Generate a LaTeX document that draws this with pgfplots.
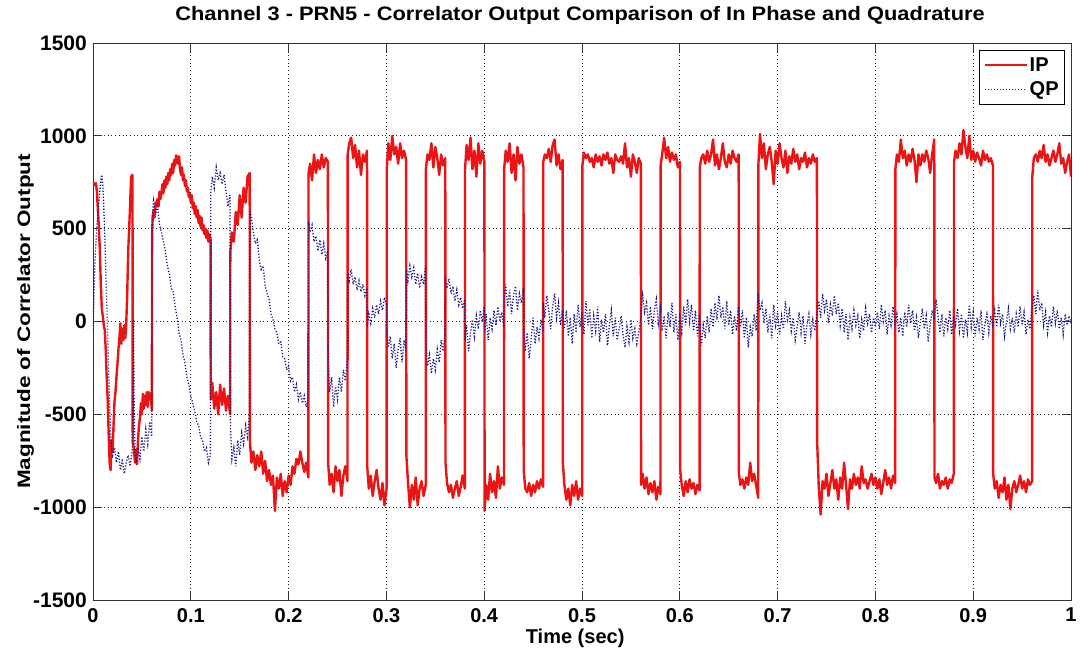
\documentclass[border=0pt]{standalone}
\usepackage{fontspec}
\setmainfont{Liberation Sans}
\newfontfamily\titlefont[FakeStretch=1.12]{Liberation Sans}
\newfontfamily\ylabfont[FakeStretch=1.25]{Liberation Sans}
\usepackage{pgfplots}
\pgfplotsset{compat=1.18}
\definecolor{ipred}{RGB}{235,20,20}
\definecolor{qpblue}{RGB}{25,25,135}
\begin{document}
\begin{tikzpicture}
\path[use as bounding box] (-93pt,-55pt) rectangle (988pt,600pt);
\begin{axis}[
  at={(0pt,0pt)}, anchor=south west,
  scale only axis, width=978pt, height=557pt,
  xmin=0, xmax=1, ymin=-1500, ymax=1500,
  xtick={0,0.1,0.2,0.3,0.4,0.5,0.6,0.7,0.8,0.9,1},
  ytick={-1500,-1000,-500,0,500,1000,1500},
  /pgf/number format/assume math mode=true,
  /pgf/number format/1000 sep={},
  grid=major,
  major grid style={black!85, line width=0.7pt, dash pattern=on 0.7pt off 3pt},
  axis line style={black!80, line width=0.8pt},
  tick style={black!80, line width=0.8pt},
  major tick length=9pt,
  tick align=inside, tick pos=both,
  xticklabel style={font=\bfseries\fontsize{20}{22}\selectfont, inner sep=0pt, yshift=-8pt},
  yticklabel style={font=\bfseries\fontsize{21}{23}\selectfont, inner sep=0pt, xshift=-6pt},
  title={Channel 3 - PRN5 - Correlator Output Comparison of In Phase and Quadrature},
  title style={font=\titlefont\bfseries\fontsize{19.5}{21}\selectfont, at={(axis description cs:0.498,1)}, anchor=base, yshift=16pt},
  xlabel={Time (sec)},
  xlabel style={font=\bfseries\fontsize{20}{22}\selectfont, at={(axis description cs:0.493,-0.069)}, anchor=center},
  ylabel={Magnitude of Correlator Output},
  ylabel style={font=\ylabfont\bfseries\fontsize{18}{20}\selectfont, at={(axis description cs:-0.069,0.5)}, anchor=center},
  legend style={at={(axis description cs:0.9939,0.9874)}, anchor=north east, draw=black, line width=0.8pt,
    font=\bfseries\fontsize{20}{22}\selectfont, inner xsep=4pt, inner ysep=5pt, row sep=5pt,
    /tikz/every even column/.append style={column sep=0pt}},
  legend cell align=left,
  legend image code/.code={\draw[#1] (-2pt,0pt) -- (40pt,0pt);},
]
\addplot[ipred, line width=2.4pt, line join=round] coordinates {
(0,740) (0.001,745) (0.002,735) (0.003,745) (0.004,700) (0.005,600) (0.006,510) (0.007,380) (0.008,200) (0.009,70)
(0.010,30) (0.011,-20) (0.012,-45) (0.013,-150) (0.014,-300) (0.015,-420) (0.016,-600) (0.017,-760) (0.018,-800) (0.019,-640)
(0.020,-700) (0.021,-560) (0.022,-430) (0.023,-380) (0.024,-300) (0.025,-230) (0.026,-150) (0.027,-90) (0.028,-10) (0.029,-120)
(0.030,-40) (0.031,-100) (0.032,-20) (0.033,-90) (0.034,-10) (0.035,150) (0.036,380) (0.037,500) (0.038,640) (0.039,780)
(0.0404,790) (0.0406,-640) (0.042,-700) (0.043,-760) (0.044,-690) (0.045,-770) (0.046,-640) (0.047,-560) (0.048,-520) (0.049,-440)
(0.050,-500) (0.051,-390) (0.052,-470) (0.053,-400) (0.054,-450) (0.055,-380) (0.056,-460) (0.057,-380) (0.058,-420) (0.059,-390)
(0.0602,-480) (0.0604,460) (0.061,560) (0.062,600) (0.063,560) (0.064,640) (0.065,620) (0.066,660) (0.067,620) (0.068,700)
(0.069,660) (0.070,690) (0.071,740) (0.072,690) (0.073,760) (0.074,720) (0.075,780) (0.076,740) (0.077,800) (0.078,760)
(0.079,820) (0.080,790) (0.081,850) (0.082,800) (0.083,870) (0.084,840) (0.085,895) (0.086,880) (0.087,850) (0.088,890)
(0.089,820) (0.090,790) (0.091,830) (0.092,760) (0.093,790) (0.094,730) (0.095,760) (0.096,700) (0.097,720) (0.098,670)
(0.099,690) (0.100,640) (0.101,680) (0.102,610) (0.103,640) (0.104,580) (0.105,620) (0.106,560) (0.107,600) (0.108,530)
(0.109,570) (0.110,510) (0.111,560) (0.112,490) (0.113,520) (0.114,470) (0.115,500) (0.116,450) (0.117,490) (0.118,430)
(0.119,470) (0.1202,440)
(0.1204,-420) (0.122,-330) (0.124,-470) (0.126,-380) (0.128,-500) (0.130,-340) (0.132,-450) (0.134,-360) (0.136,-480) (0.138,-400) (0.1402,-500)
(0.1404,370) (0.142,480) (0.144,430) (0.146,590) (0.148,520) (0.150,680) (0.152,560) (0.154,720) (0.156,640) (0.158,780) (0.1602,800)
(0.1604,-640) (0.162,-760) (0.164,-700) (0.166,-800) (0.168,-720) (0.170,-780) (0.172,-700) (0.174,-820) (0.176,-750) (0.178,-860)
(0.180,-800) (0.182,-880) (0.184,-830) (0.186,-1020) (0.188,-840) (0.190,-900) (0.192,-820) (0.194,-940) (0.196,-860) (0.198,-920)
(0.200,-830) (0.202,-880) (0.204,-780) (0.206,-820) (0.208,-740) (0.210,-770) (0.212,-700) (0.214,-760) (0.216,-810) (0.218,-760) (0.2202,-840)
(0.2204,800) (0.222,850) (0.224,760) (0.226,900) (0.228,800) (0.230,870) (0.232,820) (0.234,900) (0.236,830) (0.238,880) (0.2402,860)
(0.2404,-760) (0.242,-880) (0.244,-820) (0.246,-920) (0.248,-780) (0.250,-860) (0.252,-800) (0.254,-940) (0.256,-830) (0.258,-780) (0.2602,-860)
(0.2604,900) (0.262,960) (0.264,990) (0.266,880) (0.268,950) (0.270,830) (0.272,920) (0.274,790) (0.276,900) (0.278,860) (0.2802,920)
(0.2804,-780) (0.282,-900) (0.284,-830) (0.286,-940) (0.288,-860) (0.290,-800) (0.292,-900) (0.294,-960) (0.296,-870) (0.298,-990) (0.3002,-900)
(0.3004,820) (0.302,960) (0.304,870) (0.306,1000) (0.308,900) (0.310,940) (0.312,850) (0.314,960) (0.316,880) (0.318,920) (0.3202,870)
(0.3204,-720) (0.322,-860) (0.324,-1000) (0.326,-880) (0.328,-960) (0.330,-840) (0.332,-990) (0.334,-900) (0.336,-860) (0.338,-940) (0.3402,-880)
(0.3404,820) (0.342,900) (0.344,870) (0.346,960) (0.348,830) (0.350,940) (0.352,880) (0.354,790) (0.356,900) (0.358,840) (0.3602,880)
(0.3604,-760) (0.362,-870) (0.364,-920) (0.366,-880) (0.368,-950) (0.370,-900) (0.372,-860) (0.374,-940) (0.376,-890) (0.378,-830) (0.3802,-900)
(0.3804,820) (0.382,950) (0.384,870) (0.386,990) (0.388,820) (0.390,920) (0.392,780) (0.394,960) (0.396,850) (0.398,920) (0.4002,860)
(0.4004,-1020) (0.402,-880) (0.404,-960) (0.406,-820) (0.408,-920) (0.410,-860) (0.412,-950) (0.414,-780) (0.416,-900) (0.418,-840) (0.4202,-880)
(0.4204,820) (0.422,920) (0.424,860) (0.426,960) (0.428,800) (0.430,900) (0.432,760) (0.434,940) (0.436,850) (0.438,900) (0.4402,830)
(0.4404,-800) (0.442,-900) (0.444,-920) (0.446,-870) (0.448,-940) (0.450,-880) (0.452,-920) (0.454,-860) (0.456,-900) (0.458,-850) (0.4602,-890)
(0.4604,860) (0.462,900) (0.464,880) (0.466,930) (0.468,860) (0.470,950) (0.472,980) (0.474,840) (0.476,900) (0.478,820) (0.4802,870)
(0.4804,-760) (0.482,-880) (0.484,-960) (0.486,-900) (0.488,-990) (0.490,-880) (0.492,-940) (0.494,-860) (0.496,-960) (0.498,-900) (0.5002,-940)
(0.5004,840) (0.502,910) (0.504,880) (0.506,900) (0.508,860) (0.510,880) (0.512,830) (0.514,900) (0.516,860) (0.518,890)
(0.520,840) (0.522,900) (0.524,870) (0.526,910) (0.528,850) (0.530,880) (0.532,800) (0.534,900) (0.536,870) (0.538,860)
(0.540,890) (0.542,850) (0.544,960) (0.546,830) (0.548,880) (0.550,780) (0.552,900) (0.554,860) (0.556,800) (0.558,880) (0.5602,850)
(0.5604,-880) (0.562,-820) (0.564,-900) (0.566,-840) (0.568,-930) (0.570,-870) (0.572,-920) (0.574,-860) (0.576,-960) (0.578,-890) (0.5802,-930)
(0.5804,840) (0.582,900) (0.584,990) (0.586,880) (0.588,940) (0.590,860) (0.592,910) (0.594,870) (0.596,900) (0.598,830) (0.6002,860)
(0.6004,-800) (0.602,-880) (0.604,-940) (0.606,-860) (0.608,-920) (0.610,-850) (0.612,-900) (0.614,-870) (0.616,-930) (0.618,-880) (0.6202,-910)
(0.6204,830) (0.622,880) (0.624,900) (0.626,850) (0.628,920) (0.630,860) (0.632,900) (0.634,980) (0.636,840) (0.638,900)
(0.640,820) (0.642,880) (0.644,960) (0.646,860) (0.648,830) (0.650,900) (0.652,850) (0.654,920) (0.656,880) (0.658,860) (0.6602,900)
(0.6604,-820) (0.662,-880) (0.664,-850) (0.666,-900) (0.668,-840) (0.670,-880) (0.672,-760) (0.674,-860) (0.676,-820) (0.678,-880) (0.6802,-950)
(0.6804,850) (0.682,1010) (0.684,880) (0.686,960) (0.688,820) (0.690,900) (0.692,940) (0.694,860) (0.696,740) (0.698,920)
(0.700,850) (0.702,960) (0.704,880) (0.706,830) (0.708,920) (0.710,800) (0.712,890) (0.714,850) (0.716,930) (0.718,860)
(0.720,900) (0.722,820) (0.724,880) (0.726,860) (0.728,910) (0.730,830) (0.732,880) (0.734,850) (0.736,900) (0.738,860) (0.7402,880)
(0.7404,-640) (0.742,-880) (0.744,-1040) (0.746,-860) (0.748,-900) (0.750,-820) (0.752,-940) (0.754,-870) (0.756,-800) (0.758,-900)
(0.760,-850) (0.762,-960) (0.764,-840) (0.766,-900) (0.768,-760) (0.770,-880) (0.772,-1010) (0.774,-850) (0.776,-900) (0.778,-820)
(0.780,-880) (0.782,-840) (0.784,-900) (0.786,-780) (0.788,-870) (0.790,-850) (0.792,-900) (0.794,-860) (0.796,-820) (0.798,-880)
(0.800,-840) (0.802,-900) (0.804,-850) (0.806,-930) (0.808,-870) (0.810,-800) (0.812,-880) (0.814,-840) (0.816,-900) (0.818,-830) (0.8202,-870)
(0.8204,820) (0.822,900) (0.824,860) (0.826,980) (0.828,880) (0.830,920) (0.832,840) (0.834,900) (0.836,860) (0.838,930)
(0.840,870) (0.842,750) (0.844,900) (0.846,840) (0.848,900) (0.850,860) (0.852,920) (0.854,880) (0.856,800) (0.858,900) (0.8602,980)
(0.8604,-840) (0.862,-870) (0.864,-820) (0.866,-900) (0.868,-860) (0.870,-880) (0.872,-840) (0.874,-900) (0.876,-850) (0.878,-870) (0.8802,-820)
(0.8804,860) (0.882,920) (0.884,880) (0.886,960) (0.888,900) (0.890,1030) (0.892,940) (0.894,880) (0.896,1000) (0.898,870)
(0.900,920) (0.902,860) (0.904,910) (0.906,880) (0.908,840) (0.910,920) (0.912,870) (0.914,900) (0.916,860) (0.918,880) (0.9202,840)
(0.9204,-820) (0.922,-900) (0.924,-860) (0.926,-950) (0.928,-880) (0.930,-920) (0.932,-840) (0.934,-960) (0.936,-880) (0.938,-1010)
(0.940,-900) (0.942,-860) (0.944,-920) (0.946,-880) (0.948,-830) (0.950,-900) (0.952,-860) (0.954,-920) (0.956,-850) (0.958,-880) (0.9602,-860)
(0.9604,780) (0.962,880) (0.964,900) (0.966,860) (0.968,920) (0.970,880) (0.972,950) (0.974,860) (0.976,900) (0.978,840)
(0.980,880) (0.982,920) (0.984,860) (0.986,900) (0.988,960) (0.990,850) (0.992,880) (0.994,800) (0.996,860) (0.998,900) (1.000,780)
};
\addlegendentry{IP}
\addplot[qpblue, line width=1.3pt, dash pattern=on 1.2pt off 1.8pt] coordinates {
(0,-60) (0.001,150) (0.002,320) (0.003,420) (0.004,520) (0.005,560) (0.006,640) (0.007,700) (0.008,760) (0.009,790)
(0.010,740) (0.011,620) (0.012,480) (0.013,300) (0.014,120) (0.015,-80) (0.016,-260) (0.017,-450) (0.018,-600) (0.019,-680)
(0.020,-720) (0.022,-680) (0.024,-760) (0.026,-700) (0.028,-800) (0.030,-740) (0.032,-820) (0.034,-760) (0.036,-720) (0.038,-780)
(0.040,-700) (0.041,-300) (0.0415,20) (0.042,-400) (0.043,-700) (0.044,-760) (0.046,-680) (0.048,-740) (0.050,-620) (0.052,-700)
(0.054,-580) (0.056,-660) (0.058,-540) (0.060,-620)
(0.0605,560) (0.062,650) (0.064,580) (0.066,620) (0.068,520) (0.070,480) (0.072,430) (0.074,380) (0.076,300) (0.078,260)
(0.080,180) (0.082,160) (0.084,80) (0.086,20) (0.088,-60) (0.090,-100) (0.092,-180) (0.094,-220) (0.096,-300) (0.098,-340)
(0.100,-400) (0.102,-440) (0.104,-480) (0.106,-540) (0.108,-560) (0.110,-620) (0.112,-640) (0.114,-700) (0.116,-680) (0.118,-760) (0.120,-720)
(0.1205,700) (0.122,780) (0.124,720) (0.126,830) (0.128,760) (0.130,800) (0.132,740) (0.134,790) (0.136,700) (0.138,620) (0.140,680)
(0.1405,-560) (0.142,-740) (0.144,-680) (0.146,-780) (0.148,-640) (0.150,-720) (0.152,-600) (0.154,-660) (0.156,-560) (0.158,-620) (0.160,-500)
(0.1605,600) (0.162,560) (0.164,480) (0.166,420) (0.168,440) (0.170,330) (0.172,280) (0.174,300) (0.176,190) (0.178,150)
(0.180,120) (0.182,40) (0.184,10) (0.186,-40) (0.188,-60) (0.190,-120) (0.192,-110) (0.194,-190) (0.196,-200) (0.198,-260)
(0.200,-240) (0.202,-320) (0.204,-300) (0.206,-380) (0.208,-340) (0.210,-420) (0.212,-380) (0.214,-440) (0.216,-400) (0.218,-460) (0.220,-420)
(0.2205,540) (0.222,480) (0.224,520) (0.226,430) (0.228,460) (0.230,380) (0.232,440) (0.234,360) (0.236,420) (0.238,340) (0.240,380)
(0.2405,-250) (0.242,-380) (0.244,-300) (0.246,-460) (0.248,-350) (0.250,-420) (0.252,-300) (0.254,-380) (0.256,-260) (0.258,-320) (0.260,-200)
(0.2605,260) (0.262,220) (0.264,280) (0.266,200) (0.268,240) (0.270,170) (0.272,220) (0.274,160) (0.276,200) (0.278,140) (0.280,180)
(0.2805,-30) (0.282,40) (0.284,-10) (0.286,70) (0.288,20) (0.290,90) (0.292,40) (0.294,110) (0.296,60) (0.298,130) (0.300,90)
(0.3005,-60) (0.302,-140) (0.304,-80) (0.306,-200) (0.308,-120) (0.310,-250) (0.312,-150) (0.314,-90) (0.316,-220) (0.318,-100) (0.320,-160)
(0.3205,280) (0.322,220) (0.324,300) (0.326,240) (0.328,290) (0.330,200) (0.332,260) (0.334,180) (0.336,240) (0.338,200) (0.340,300)
(0.3405,-120) (0.342,-240) (0.344,-180) (0.346,-280) (0.348,-200) (0.350,-260) (0.352,-150) (0.354,-220) (0.356,-100) (0.358,-160) (0.360,-60)
(0.3605,220) (0.362,180) (0.364,230) (0.366,150) (0.368,190) (0.370,110) (0.372,170) (0.374,90) (0.376,130) (0.378,70) (0.380,120)
(0.3805,-100) (0.382,-20) (0.384,-160) (0.386,-60) (0.388,10) (0.390,-80) (0.392,30) (0.394,-40) (0.396,60) (0.398,0) (0.400,80)
(0.4005,-60) (0.402,40) (0.404,-100) (0.406,20) (0.408,-40) (0.410,60) (0.412,-20) (0.414,80) (0.416,0) (0.418,50) (0.420,-30)
(0.4205,120) (0.422,200) (0.424,80) (0.426,170) (0.428,40) (0.430,140) (0.432,190) (0.434,60) (0.436,150) (0.438,100) (0.440,180)
(0.4405,-40) (0.442,-160) (0.444,-60) (0.446,-200) (0.448,-100) (0.450,20) (0.452,-120) (0.454,-30) (0.456,-90) (0.458,10) (0.460,-50)
(0.4605,100) (0.462,20) (0.464,140) (0.466,60) (0.468,-40) (0.470,80) (0.472,150) (0.474,20) (0.476,100) (0.478,-20) (0.480,60)
(0.482,-40) (0.484,60) (0.486,-80) (0.488,20) (0.490,-120) (0.492,40) (0.494,-60) (0.496,90) (0.498,-30) (0.500,50)
(0.502,-70) (0.504,110) (0.506,-20) (0.508,70) (0.510,-90) (0.512,30) (0.514,-50) (0.516,80) (0.518,-110) (0.520,10)
(0.522,-60) (0.524,40) (0.526,-130) (0.528,-20) (0.530,60) (0.532,-80) (0.534,20) (0.536,-100) (0.538,-40) (0.540,30)
(0.542,-70) (0.544,-140) (0.546,-30) (0.548,-110) (0.550,10) (0.552,-90) (0.554,-40) (0.556,-120) (0.558,-60) (0.560,20)
(0.562,140) (0.564,50) (0.566,100) (0.568,-20) (0.570,80) (0.572,-40) (0.574,60) (0.576,120) (0.578,-10) (0.580,70)
(0.582,-50) (0.584,30) (0.586,-90) (0.588,50) (0.590,-30) (0.592,100) (0.594,-60) (0.596,40) (0.598,-100) (0.600,20)
(0.602,-60) (0.604,80) (0.606,-20) (0.608,120) (0.610,0) (0.612,90) (0.614,-50) (0.616,60) (0.618,-80) (0.620,40)
(0.622,-130) (0.624,-20) (0.626,-90) (0.628,30) (0.630,-60) (0.632,70) (0.634,-30) (0.636,100) (0.638,10) (0.640,140)
(0.642,20) (0.644,80) (0.646,-40) (0.648,110) (0.650,-20) (0.652,60) (0.654,-70) (0.656,30) (0.658,-50) (0.660,80)
(0.662,-30) (0.664,60) (0.666,-90) (0.668,20) (0.670,-140) (0.672,-30) (0.674,-80) (0.676,40) (0.678,-50) (0.680,150)
(0.682,60) (0.684,100) (0.686,-10) (0.688,70) (0.690,-60) (0.692,40) (0.694,-90) (0.696,90) (0.698,-20) (0.700,50)
(0.702,-70) (0.704,30) (0.706,-40) (0.708,110) (0.710,10) (0.712,60) (0.714,-50) (0.716,20) (0.718,-100) (0.720,-30)
(0.722,50) (0.724,-60) (0.726,30) (0.728,-120) (0.730,-20) (0.732,40) (0.734,-70) (0.736,10) (0.738,-50) (0.740,30)
(0.742,110) (0.744,20) (0.746,150) (0.748,60) (0.750,120) (0.752,-10) (0.754,90) (0.756,30) (0.758,140) (0.760,40)
(0.762,100) (0.764,-20) (0.766,70) (0.768,-60) (0.770,40) (0.772,-100) (0.774,20) (0.776,-40) (0.778,60) (0.780,-20)
(0.782,30) (0.784,-90) (0.786,10) (0.788,-50) (0.790,70) (0.792,-10) (0.794,40) (0.796,-60) (0.798,20) (0.800,-30)
(0.802,50) (0.804,-40) (0.806,90) (0.808,0) (0.810,60) (0.812,-70) (0.814,30) (0.816,-20) (0.818,80) (0.820,-10)
(0.822,40) (0.824,-60) (0.826,20) (0.828,-80) (0.830,50) (0.832,-30) (0.834,90) (0.836,-10) (0.838,60) (0.840,-50)
(0.842,20) (0.844,-90) (0.846,0) (0.848,70) (0.850,-40) (0.852,30) (0.854,-110) (0.856,-20) (0.858,60) (0.860,10)
(0.862,120) (0.864,30) (0.866,-60) (0.868,40) (0.870,-80) (0.872,20) (0.874,-40) (0.876,60) (0.878,-70) (0.880,30)
(0.882,-20) (0.884,70) (0.886,-50) (0.888,40) (0.890,-90) (0.892,10) (0.894,-60) (0.896,90) (0.898,-30) (0.900,50)
(0.902,-80) (0.904,20) (0.906,-40) (0.908,60) (0.910,-100) (0.912,-10) (0.914,40) (0.916,-60) (0.918,30) (0.920,-20)
(0.922,60) (0.924,-30) (0.926,90) (0.928,-10) (0.930,40) (0.932,-80) (0.934,0) (0.936,70) (0.938,-40) (0.940,20)
(0.942,-60) (0.944,40) (0.946,-30) (0.948,80) (0.950,-20) (0.952,50) (0.954,-70) (0.956,10) (0.958,-40) (0.960,60)
(0.962,140) (0.964,40) (0.966,170) (0.968,60) (0.970,100) (0.972,-20) (0.974,50) (0.976,-60) (0.978,30) (0.980,-30)
(0.982,80) (0.984,-10) (0.986,60) (0.988,-40) (0.990,20) (0.992,-70) (0.994,40) (0.996,-20) (0.998,30) (1.000,-10)
};
\addlegendentry{QP}
\end{axis}
\end{tikzpicture}
\end{document}
